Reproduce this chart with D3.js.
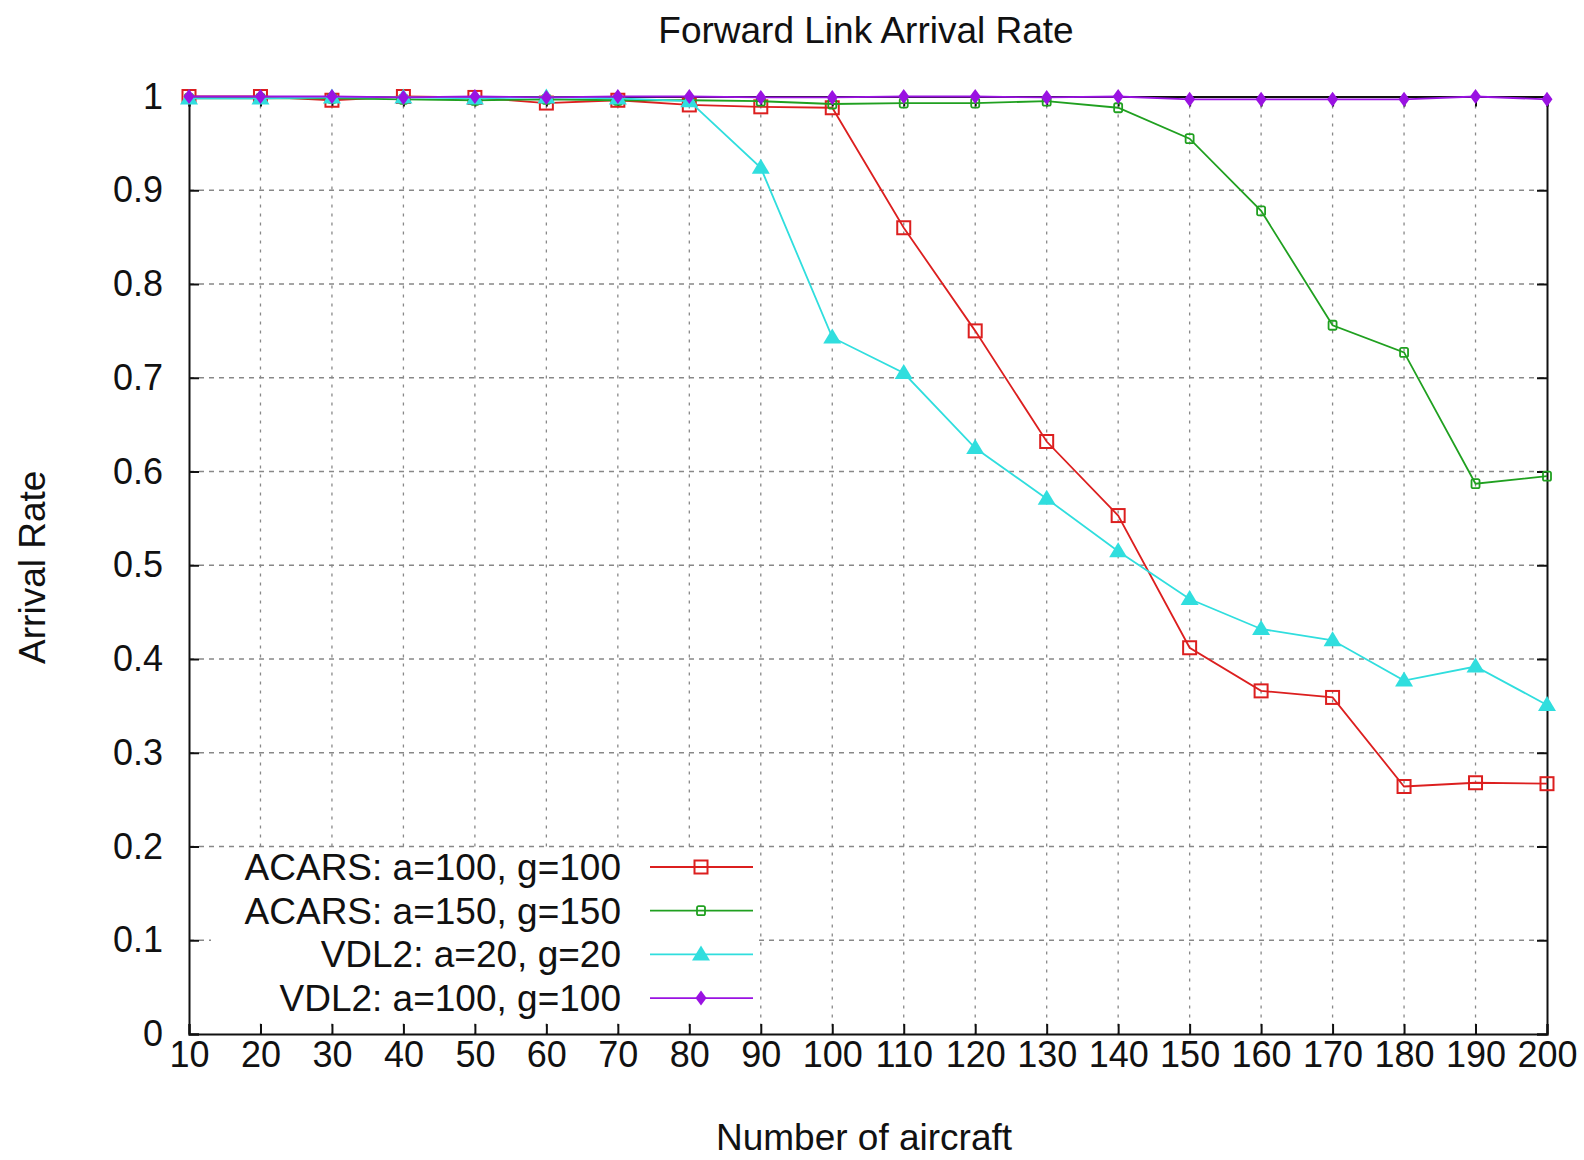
<!DOCTYPE html>
<html>
<head>
<meta charset="utf-8">
<script src="https://cdn.jsdelivr.net/npm/d3@7"></script>
<style>
  body { margin: 0; background: #fff; }
  text { font-family: "Liberation Sans", Arial, sans-serif; fill: #111; }
</style>
</head>
<body>
<svg id="chart-area"></svg>
<script>
// data
const aircraft = [10, 20, 30, 40, 50, 60, 70, 80, 90, 100, 110, 120, 130, 140, 150, 160, 170, 180, 190, 200]
const acars100 = [1.0, 1.0, 0.996, 1.0, 0.999, 0.993, 0.996, 0.991, 0.989, 0.988, 0.860, 0.750, 0.632, 0.553, 0.412, 0.366, 0.359, 0.264, 0.268, 0.267]
const acars150 = [0.998, 0.998, 0.998, 0.997, 0.996, 0.997, 0.996, 0.996, 0.995, 0.992, 0.993, 0.993, 0.995, 0.988, 0.955, 0.878, 0.756, 0.727, 0.587, 0.595]
const vdl20 = [0.998, 0.998, 0.999, 0.999, 0.998, 0.999, 0.998, 0.995, 0.924, 0.743, 0.705, 0.625, 0.571, 0.515, 0.464, 0.432, 0.420, 0.377, 0.392, 0.351]
const vdl100 = [1.0, 1.0, 1.0, 0.999, 1.0, 0.999, 1.0, 1.0, 0.999, 0.999, 1.0, 1.0, 0.999, 1.0, 0.997, 0.997, 0.997, 0.997, 1.0, 0.997]
const seriesNames = ["ACARS: a=100, g=100", "ACARS: a=150, g=150", "VDL2: a=20, g=20", "VDL2: a=100, g=100"]
const yTicks = [0, 0.1, 0.2, 0.3, 0.4, 0.5, 0.6, 0.7, 0.8, 0.9, 1]

const series = [
  { name: seriesNames[0], values: acars100, color: "#dc1f1f", marker: "square" },
  { name: seriesNames[1], values: acars150, color: "#20a020", marker: "smallsquare" },
  { name: seriesNames[2], values: vdl20, color: "#30dede", marker: "triangle" },
  { name: seriesNames[3], values: vdl100, color: "#9a12e2", marker: "diamond" }
]

const svgWidth = 1584
const svgHeight = 1160
const margin = { left: 189, right: 37, top: 96.5, bottom: 126 }
const chartWidth = svgWidth - margin.left - margin.right
const chartHeight = svgHeight - margin.top - margin.bottom

const svg = d3.select("#chart-area")
  .attr("width", svgWidth)
  .attr("height", svgHeight)

const chart = svg.append("g")
  .attr("transform", `translate(${margin.left},${margin.top})`)

const xScale = d3.scaleLinear().domain([10, 200]).range([0, chartWidth])
const yScale = d3.scaleLinear().domain([0, 1]).range([chartHeight, 0])

// grid
chart.append("g")
  .selectAll("line")
  .data(aircraft.slice(1, -1))
  .join("line")
  .attr("x1", d => xScale(d)).attr("x2", d => xScale(d))
  .attr("y1", 0).attr("y2", chartHeight)
  .attr("stroke", "#888").attr("stroke-width", 1.3)
  .attr("stroke-dasharray", "3,6")

chart.append("g")
  .selectAll("line")
  .data(yTicks.slice(1, -1))
  .join("line")
  .attr("x1", 0).attr("x2", chartWidth)
  .attr("y1", d => yScale(d)).attr("y2", d => yScale(d))
  .attr("stroke", "#888").attr("stroke-width", 1.3)
  .attr("stroke-dasharray", "5,5")

// axes: inward ticks on all four sides
const tick = 10
const xAxis = chart.append("g")
  .attr("transform", `translate(0,${chartHeight})`)
  .call(d3.axisBottom(xScale).tickValues(aircraft).tickSize(-tick).tickPadding(7).tickFormat(d3.format("d")))
xAxis.selectAll("text").attr("font-size", 36).attr("dy", "0.71em")

chart.append("g")
  .call(d3.axisTop(xScale).tickValues(aircraft).tickSize(-tick).tickFormat(""))

const yAxis = chart.append("g")
  .call(d3.axisLeft(yScale).tickValues(yTicks).tickSize(-tick).tickPadding(26).tickFormat(d3.format("")))
yAxis.selectAll("text").attr("font-size", 36)

chart.append("g")
  .attr("transform", `translate(${chartWidth},0)`)
  .call(d3.axisRight(yScale).tickValues(yTicks).tickSize(-tick).tickFormat(""))

chart.selectAll(".domain").attr("stroke", "#111").attr("stroke-width", 2)
chart.selectAll(".tick line").attr("stroke", "#111").attr("stroke-width", 2)

// markers
function drawMarker(g, type, color) {
  if (type === "square") {
    g.append("rect").attr("x", -6.5).attr("y", -6.5).attr("width", 13).attr("height", 13)
      .attr("fill", "none").attr("stroke", color).attr("stroke-width", 2)
  } else if (type === "smallsquare") {
    g.append("rect").attr("x", -4).attr("y", -4.5).attr("width", 8).attr("height", 9).attr("rx", 1.5)
      .attr("fill", "none").attr("stroke", color).attr("stroke-width", 1.8)
  } else if (type === "triangle") {
    g.append("path").attr("d", "M0,-9 L9,6 L-9,6 Z").attr("fill", color)
  } else {
    g.append("path").attr("d", "M0,-7.5 L5.5,0 L0,7.5 L-5.5,0 Z").attr("fill", color)
  }
}

const line = d3.line()
  .x((d, i) => xScale(aircraft[i]))
  .y(d => yScale(d))

series.forEach(s => {
  const g = chart.append("g")
  g.append("path")
    .attr("d", line(s.values))
    .attr("fill", "none")
    .attr("stroke", s.color)
    .attr("stroke-width", 1.8)
  g.selectAll("g.pt")
    .data(s.values)
    .join("g")
    .attr("class", "pt")
    .attr("transform", (d, i) => `translate(${xScale(aircraft[i])},${yScale(d)})`)
    .each(function () { drawMarker(d3.select(this), s.marker, s.color) })
})

// legend
const legend = chart.append("g")
  .attr("transform", `translate(${211 - margin.left},${852 - margin.top})`)
legend.append("rect")
  .attr("width", 547).attr("height", 168)
  .attr("fill", "#fff")
series.forEach((s, i) => {
  const row = legend.append("g").attr("transform", `translate(0,${15 + i * 43.7})`)
  row.append("text")
    .attr("x", 410).attr("y", 0).attr("dy", "0.35em")
    .attr("text-anchor", "end")
    .attr("font-size", 37)
    .text(s.name)
  row.append("line")
    .attr("x1", 439).attr("x2", 542)
    .attr("stroke", s.color).attr("stroke-width", 1.8)
  const m = row.append("g").attr("transform", "translate(490,0)")
  drawMarker(m, s.marker, s.color)
})

// titles
svg.append("text")
  .attr("x", 866).attr("y", 43)
  .attr("text-anchor", "middle")
  .attr("font-size", 37)
  .text("Forward Link Arrival Rate")

svg.append("text")
  .attr("x", 864).attr("y", 1150)
  .attr("text-anchor", "middle")
  .attr("font-size", 37)
  .text("Number of aircraft")

svg.append("text")
  .attr("transform", `translate(45,${margin.top + chartHeight / 2 + 2}) rotate(-90)`)
  .attr("text-anchor", "middle")
  .attr("font-size", 37)
  .text("Arrival Rate")
</script>
</body>
</html>
